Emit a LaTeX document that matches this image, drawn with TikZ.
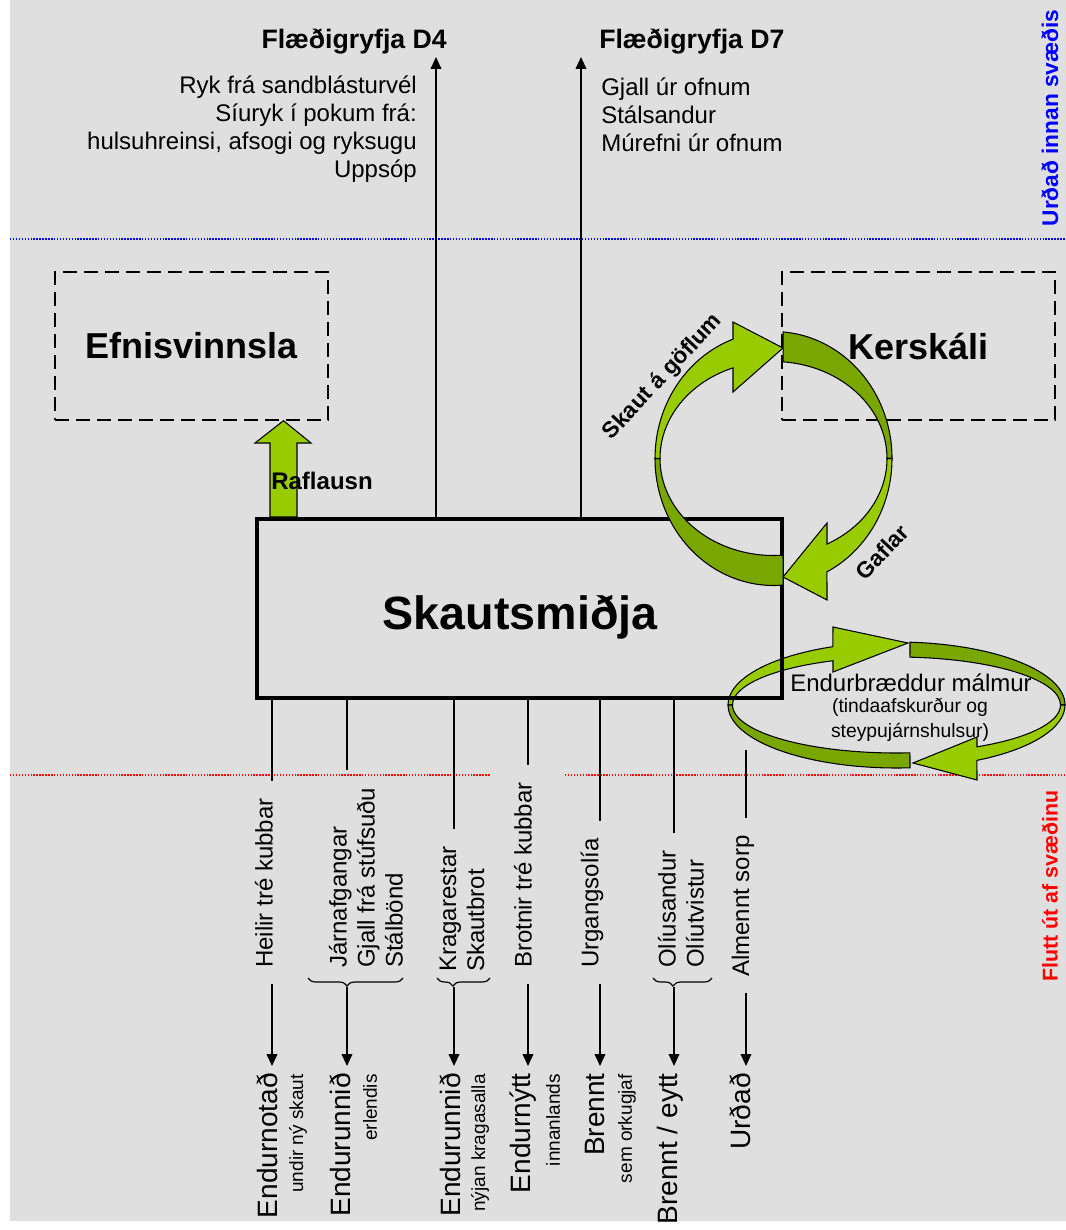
\documentclass[tikz,border=0pt]{standalone}
\usepackage{fontspec}
\setmainfont{Liberation Sans}
\usepackage{tikz}
\usetikzlibrary{arrows.meta}
\usetikzlibrary{calc}
\usetikzlibrary{decorations.pathreplacing}

\begin{document}
\begin{tikzpicture}[x=0.75pt,y=0.75pt,yscale=-1,xscale=1,
    flow/.style={line width=1.3pt,-{Triangle[length=9pt,width=8pt]}},
    drop/.style={flow,shorten <=11pt,shorten >=4.5pt},
    lead/.style={line width=1.3pt,shorten >=12pt},
    txt/.style={inner sep=0.75pt,font=\fontsize{18}{21}\selectfont},
    ttl/.style={inner sep=0.75pt,font=\bfseries\fontsize{20}{24}\selectfont},
    waste/.style={inner sep=0.75pt,rotate=90,anchor=west,align=left,font=\fontsize{18}{21}\selectfont},
    dest/.style={inner sep=0.75pt,rotate=90,anchor=east,font=\fontsize{21}{25}\selectfont},
    note/.style={inner sep=0.75pt,rotate=90,anchor=east,font=\fontsize{14.25}{17}\selectfont},
    unit/.style={draw,line width=1.1pt,dash pattern=on 10.5pt off 5.25pt,minimum width=204.75pt,minimum height=111pt,inner sep=0pt,font=\bfseries\fontsize{27}{32}\selectfont},
    ribbon/.style={draw,line width=0.8pt},
    lite/.style={ribbon,fill={rgb, 255:red, 153; green, 204; blue, 0 }},
    dark/.style={ribbon,fill={rgb, 255:red, 122; green, 166; blue, 0 }},
    curly/.style={line width=0.9pt,decorate,decoration={brace,mirror,amplitude=6pt,aspect=#1}},
    zone/.style={line width=1.1pt,dash pattern=on 1.1pt off 1.1pt},
    tag/.style={inner sep=0.75pt,font=\bfseries\fontsize{17}{20}\selectfont}
  ]
    \useasboundingbox (0,0) rectangle (1066,1230);
    \fill[white] (0,0) rectangle (1066,1230);
    \fill[fill={rgb, 255:red, 223; green, 223; blue, 223 }] (10,0) rectangle (1066,1221);

    \draw[zone,blue] (10,239) -- (1066,239);
    \draw[zone,red] (10,775) -- (490,775);
    \draw[zone,red] (565,775) -- (1066,775);
    \node[rotate=90,text=blue,inner sep=0.75pt,font=\bfseries\fontsize{17}{20}\selectfont] (innan) at (1050,118) {Urðað innan svæðis};
    \node[rotate=90,text=red,inner sep=0.75pt,font=\bfseries\fontsize{16}{20}\selectfont] (utaf) at (1050,886) {Flutt út af svæðinu};

    \node[unit] (efni) at (191.5,346) {Efnisvinnsla};
    \node[unit] (ker) at (918.5,346) {Kerskáli};

    \coordinate (ec) at (896.5,705);
    \draw[lite] ($(ec)+(180:168.5 and 63)$) arc[start angle=180,end angle=247.8,x radius=168.5,y radius=63] -- (833,627) -- (908,643) -- (833,672) -- ($(ec)+(247.2:164 and 48)$) arc[start angle=247.2,end angle=180,x radius=164,y radius=48] -- cycle;
    \draw[dark] ($(ec)+(274.6:168.5 and 63)$) arc[start angle=274.6,end angle=360,x radius=168.5,y radius=63] -- ($(ec)+(0:164 and 48)$) arc[start angle=360,end angle=274.7,x radius=164,y radius=48] -- cycle;
    \draw[dark] ($(ec)+(85.4:168.5 and 63)$) arc[start angle=85.4,end angle=180,x radius=168.5,y radius=63] -- ($(ec)+(180:164 and 48)$) arc[start angle=180,end angle=85.3,x radius=164,y radius=48] -- cycle;
    \draw[lite] ($(ec)+(0:168.5 and 63)$) arc[start angle=0,end angle=61.5,x radius=168.5,y radius=63] -- (977,780) -- (913,763) -- (977,737) -- ($(ec)+(60.6:164 and 48)$) arc[start angle=60.6,end angle=0,x radius=164,y radius=48] -- cycle;
    \node[txt] (malmur) at (911,683) {Endurbræddur málmur};
    \node[align=center,inner sep=0.75pt,font=\fontsize{14.5}{19}\selectfont] (tinda) at (910,720) {(tindaafskurður og\\steypujárnshulsur)};

    \node[draw,line width=3pt,minimum width=393.75pt,minimum height=134.6pt] (smidja) at (519,608.75) {};
    \node[inner sep=0.75pt,font=\bfseries\fontsize{35}{42}\selectfont] (smidjaT) at (520,617) {Skautsmiðja};

    \coordinate (rc) at (773.5,458.5);
    \draw[dark] ($(rc)+(85.3:118.5 and 127)$) arc[start angle=85.3,end angle=180,x radius=118.5,y radius=127] -- ($(rc)+(180:113.5 and 97)$) arc[start angle=180,end angle=85.2,x radius=113.5,y radius=97] -- cycle;
    \draw[lite] ($(rc)+(180:118.5 and 127)$) arc[start angle=180,end angle=250,x radius=118.5,y radius=127] -- (733,322) -- (783,348) -- (733,392) -- ($(rc)+(249.1:113.5 and 97)$) arc[start angle=249.1,end angle=180,x radius=113.5,y radius=97] -- cycle;
    \draw[dark] ($(rc)+(274.7:118.5 and 127)$) arc[start angle=274.7,end angle=360,x radius=118.5,y radius=127] -- ($(rc)+(0:113.5 and 97)$) arc[start angle=360,end angle=274.8,x radius=113.5,y radius=97] -- cycle;
    \draw[lite] ($(rc)+(0:118.5 and 127)$) arc[start angle=0,end angle=63.2,x radius=118.5,y radius=127] -- (827,600) -- (783,577) -- (827,523) -- ($(rc)+(61.9:113.5 and 97)$) arc[start angle=61.9,end angle=0,x radius=113.5,y radius=97] -- cycle;
    \node[tag,rotate=47] (skautG) at (663,377) {Skaut á göflum};
    \node[tag,rotate=47] (gaflar) at (882,552) {Gaflar};

    \draw[lite] (smidja.north -| 270,0) -- (270,443) -- (255,443) -- (efni.south -| 283.5,0) -- (311,443) -- (297,443) -- (smidja.north -| 297,0) -- cycle;
    \node[inner sep=0.75pt,font=\bfseries\fontsize{18}{21}\selectfont] (rafl) at (322,481) {Raflausn};

    \coordinate (d4) at (436,57);
    \coordinate (d7) at (581,57);
    \draw[flow] (smidja.north -| d4) -- (d4);
    \draw[flow] (smidja.north -| d7) -- (d7);
    \node[ttl,anchor=east] (d4T) at (448,42) {Flæðigryfja D4};
    \node[ttl,anchor=west] (d7T) at (598,42) {Flæðigryfja D7};
    \node[txt,anchor=east,align=right] (d4list) at (418,129) {Ryk frá sandblásturvél\\Síuryk í pokum frá:\\hulsuhreinsi, afsogi og ryksugu\\Uppsóp};
    \node[txt,anchor=west,align=left] (d7list) at (600,115) {Gjall úr ofnum\\Stálsandur\\Múrefni úr ofnum};

    \node[waste] (heilir) at (264,969) {Heilir tré kubbar};
    \node[waste] (jarn) at (366,969) {Járnafgangar\\Gjall frá stúfsuðu\\Stálbönd};
    \node[waste] (kraga) at (462,973) {Kragarestar\\Skautbrot};
    \node[waste] (brotnir) at (523,969) {Brotnir tré kubbar};
    \node[waste] (urgang) at (592,969) {Urgangsolía};
    \node[waste] (oliu) at (681,969) {Olíusandur\\Olíutvistur};
    \node[waste] (almennt) at (743,978) {Almennt sorp};

    \node[dest] (endurnotad) at (267,1072) {Endurnotað};
    \node[note] (undir) at (298,1073) {undir ný skaut};
    \node[dest] (endurunnidA) at (340,1072) {Endurunnið};
    \node[note] (erlendis) at (370,1073) {erlendis};
    \node[dest] (endurunnidB) at (450,1072) {Endurunnið};
    \node[note] (nyjan) at (480,1073) {nýjan kragasalla};
    \node[dest] (endurnytt) at (523,1072) {Endurnýtt};
    \node[note] (innanl) at (553,1073) {innanlands};
    \node[dest] (brennt) at (595,1072) {Brennt};
    \node[note] (orku) at (627,1073) {sem orkugjaf};
    \node[dest] (eytt) at (670,1072) {Brennt / eytt};
    \node[dest] (urdad) at (740,1072) {Urðað};

    \coordinate (k1) at (272,700);
    \coordinate (k2) at (347,700);
    \coordinate (k3) at (454,700);
    \coordinate (k4) at (528,700);
    \coordinate (k5) at (600,700);
    \coordinate (k6) at (674,700);
    \coordinate (k7) at (746,750);

    \draw[lead] (smidja.south -| k1) -- (k1 |- heilir.east);
    \draw[lead] (smidja.south -| k2) -- (k2 |- jarn.east);
    \draw[lead] (smidja.south -| k3) -- (k3 |- kraga.east);
    \draw[lead] (smidja.south -| k4) -- (k4 |- brotnir.east);
    \draw[lead] (smidja.south -| k5) -- (k5 |- urgang.east);
    \draw[lead] (smidja.south -| k6) -- (k6 |- oliu.east);
    \draw[lead] (k7) -- (k7 |- almennt.east);

    \draw[curly=0.41] (308,978) -- (403,978);
    \draw[curly=0.3] (437,978) -- (490,978);
    \draw[curly=0.34] (653,978) -- (712,978);
    \coordinate (b2) at (347,987);
    \coordinate (b3) at (454,987);
    \coordinate (b6) at (674,987);

    \draw[drop] (k1 |- heilir.west) -- (k1 |- endurnotad.east);
    \draw[flow,shorten >=4.5pt] (b2) -- (b2 |- endurunnidA.east);
    \draw[flow,shorten >=4.5pt] (b3) -- (b3 |- endurunnidB.east);
    \draw[drop] (k4 |- brotnir.west) -- (k4 |- endurnytt.east);
    \draw[drop] (k5 |- urgang.west) -- (k5 |- brennt.east);
    \draw[flow,shorten >=4.5pt] (b6) -- (b6 |- eytt.east);
    \draw[drop] (k7 |- almennt.west) -- (k7 |- urdad.east);
\end{tikzpicture}
\end{document}
